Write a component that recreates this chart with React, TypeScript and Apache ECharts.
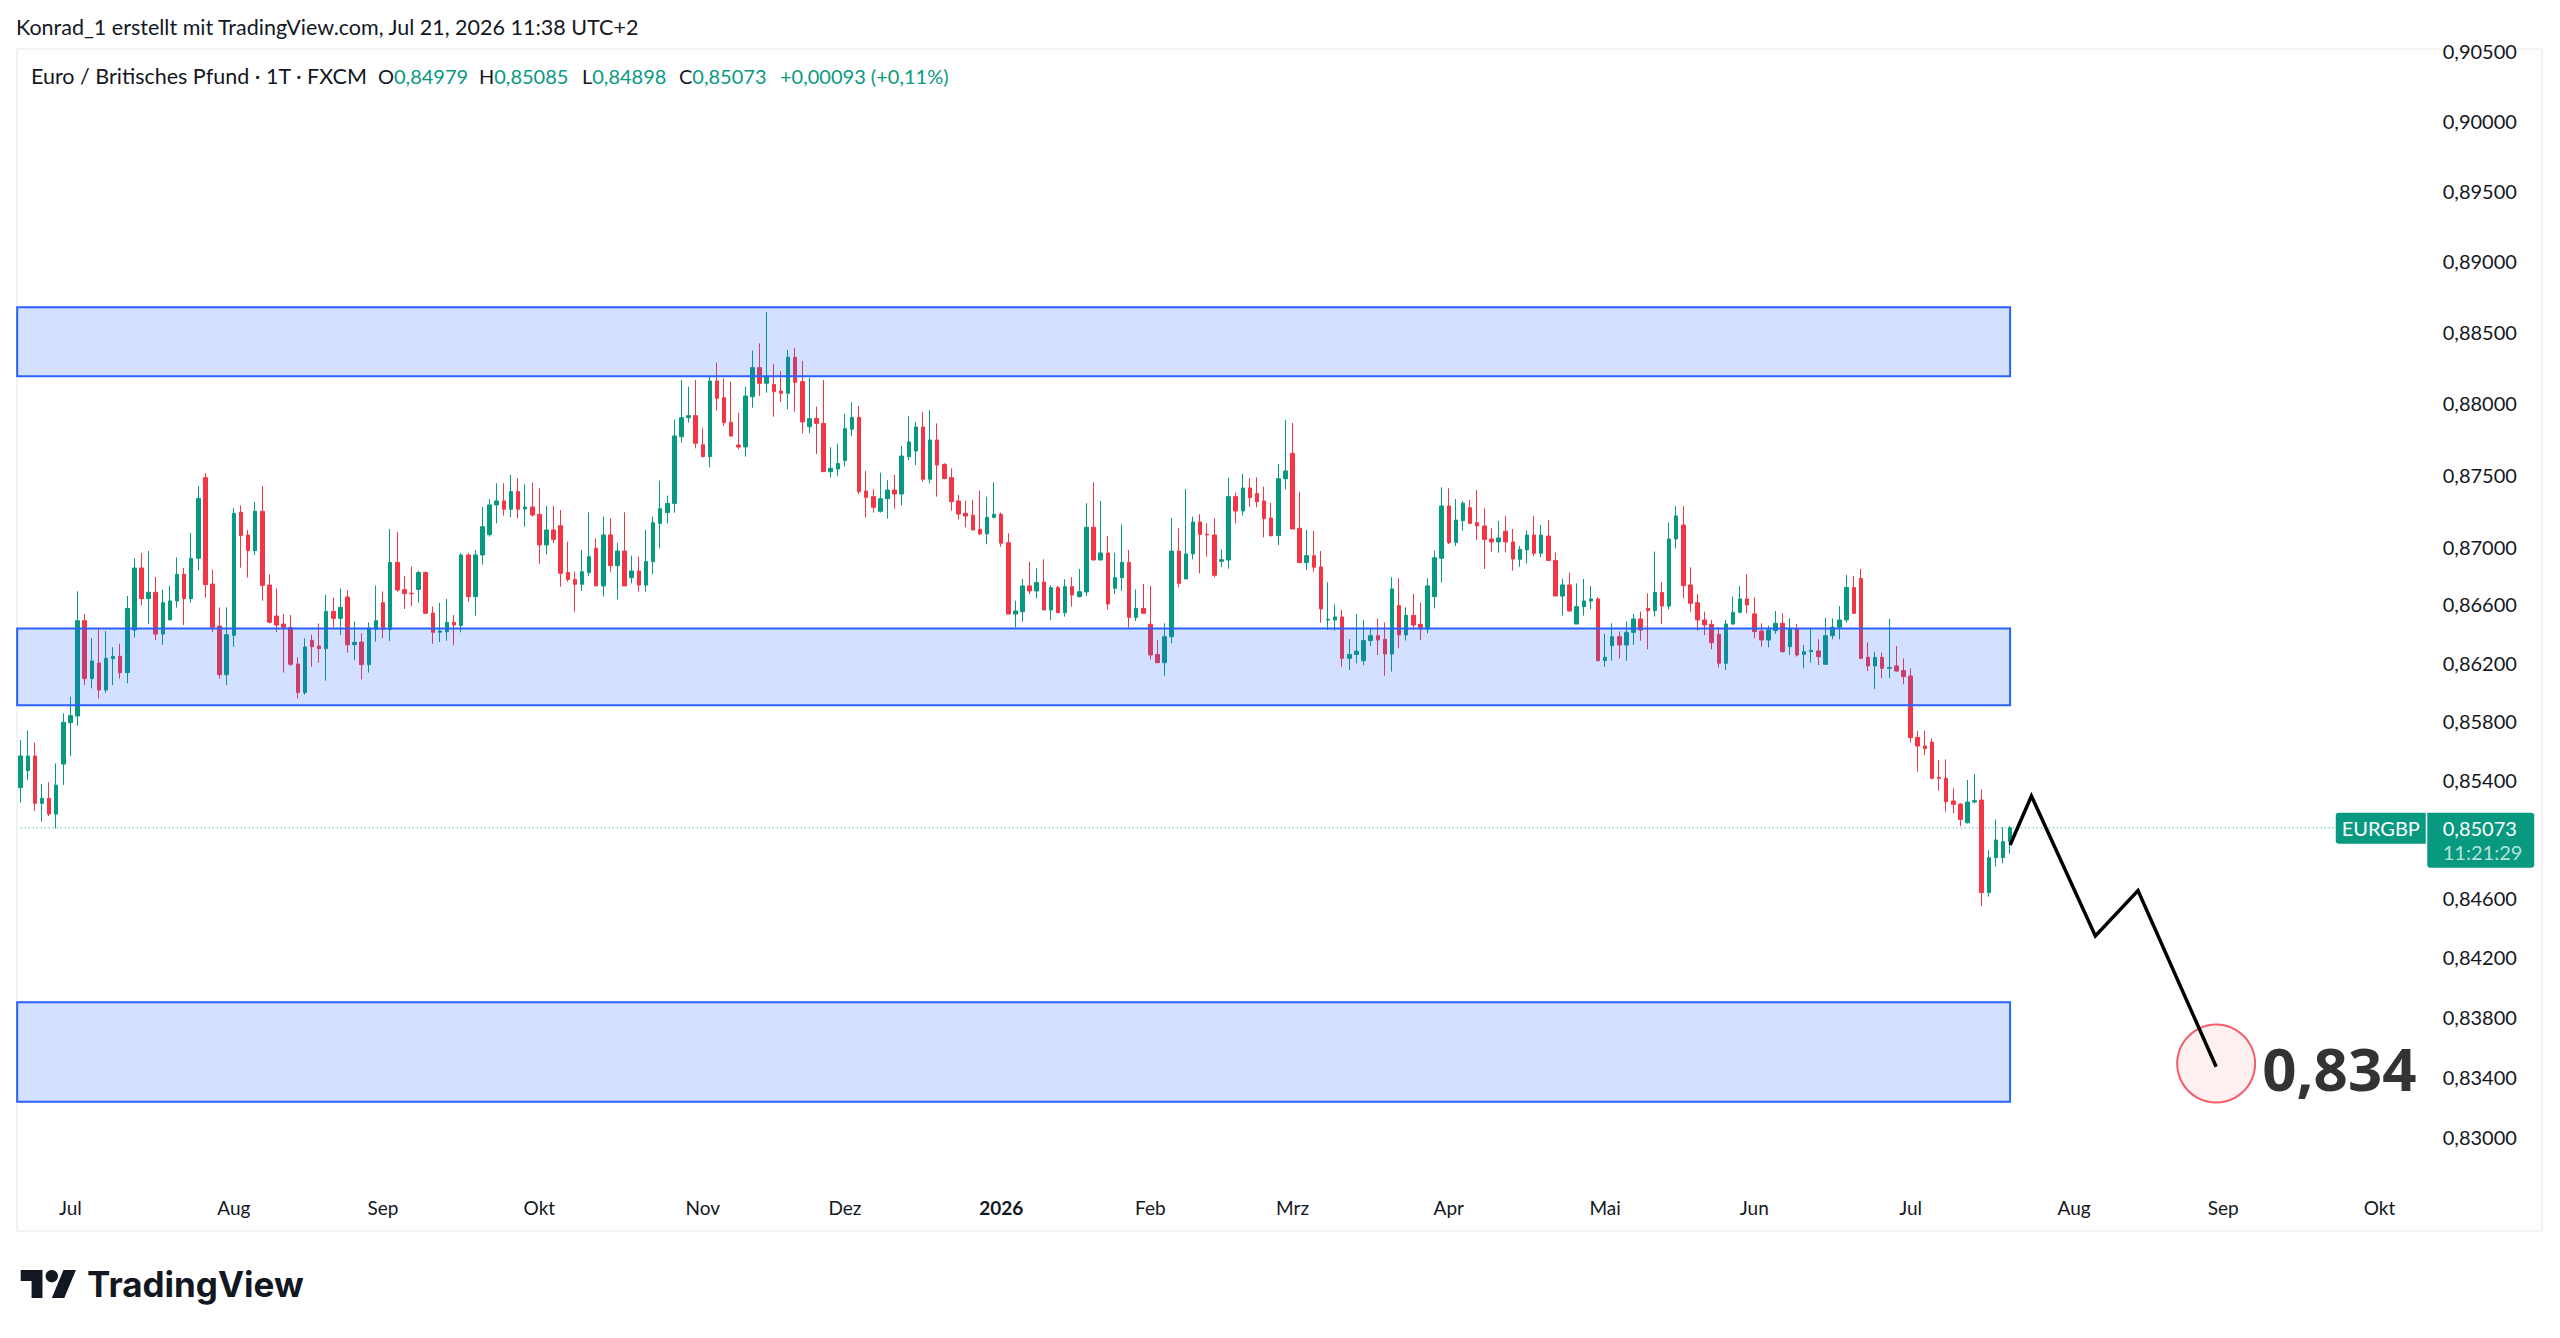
import React, { useEffect, useRef } from "react";
import * as echarts from "echarts";

const FONT = 'Lato, "Noto Sans", sans-serif';
const UP = "#089981";
const DOWN = "#F23645";
const TEXT = "#131722";

const START_DATE = "2025-06-20";
const END_DATE = "2026-10-09";
const HOLIDAYS = ["2025-12-25", "2026-01-01"];
const LAST_DATE = "2026-07-21";
const MONTHS_DE = ["Jan", "Feb", "Mrz", "Apr", "Mai", "Jun", "Jul", "Aug", "Sep", "Okt", "Nov", "Dez"];

// daily candles, each [open, close, low, high]
const OHLC: number[][] = [
  [0.85345, 0.85561, 0.85243, 0.8567], [0.85461, 0.85561, 0.85397, 0.85734], [0.85561, 0.85239, 0.85187, 0.85652],
  [0.85239, 0.85273, 0.85114, 0.8537], [0.85273, 0.85166, 0.85153, 0.85382], [0.85166, 0.85363, 0.85069, 0.85511],
  [0.85506, 0.85791, 0.85363, 0.85852], [0.85788, 0.85836, 0.85561, 0.85966], [0.85834, 0.86488, 0.85766, 0.8669],
  [0.86488, 0.8609, 0.86046, 0.86534], [0.8609, 0.86211, 0.86023, 0.86367], [0.86197, 0.86012, 0.85955, 0.86428],
  [0.86012, 0.86229, 0.85994, 0.86417], [0.86227, 0.86241, 0.86046, 0.86305], [0.86243, 0.86131, 0.8609, 0.86328],
  [0.86131, 0.86573, 0.86058, 0.86658], [0.86424, 0.86852, 0.86373, 0.86919], [0.86852, 0.8664, 0.86594, 0.86956],
  [0.8664, 0.86684, 0.86465, 0.8697], [0.86684, 0.86396, 0.86355, 0.8679], [0.86396, 0.86612, 0.86323, 0.86702],
  [0.86493, 0.86624, 0.86493, 0.8673], [0.86624, 0.86808, 0.86578, 0.86926], [0.86808, 0.8664, 0.86458, 0.86852],
  [0.8664, 0.86919, 0.86612, 0.87094], [0.86919, 0.87335, 0.86836, 0.87421], [0.87479, 0.86737, 0.86647, 0.87512],
  [0.86741, 0.86442, 0.8641, 0.8684], [0.86451, 0.86117, 0.8609, 0.8658], [0.86117, 0.86392, 0.86044, 0.8658],
  [0.86387, 0.87231, 0.86309, 0.87268], [0.87238, 0.87076, 0.86854, 0.87286], [0.8708, 0.86972, 0.86785, 0.87115],
  [0.86972, 0.87245, 0.86942, 0.8731], [0.87245, 0.86732, 0.86626, 0.87421], [0.86734, 0.86477, 0.86469, 0.86808],
  [0.8652, 0.86458, 0.8641, 0.86711], [0.86465, 0.86442, 0.86131, 0.86534], [0.86442, 0.86188, 0.86176, 0.86527],
  [0.8619, 0.85994, 0.85955, 0.86236], [0.85994, 0.86307, 0.8598, 0.86367], [0.86353, 0.86309, 0.86172, 0.86392],
  [0.86314, 0.86296, 0.86199, 0.86469], [0.86296, 0.86552, 0.86076, 0.86665], [0.86552, 0.86504, 0.86442, 0.86647],
  [0.86504, 0.8658, 0.86389, 0.86711], [0.86651, 0.86323, 0.86268, 0.86697], [0.86323, 0.86339, 0.86218, 0.86483],
  [0.86341, 0.86186, 0.86085, 0.86401], [0.86186, 0.86437, 0.86131, 0.86477], [0.86428, 0.86488, 0.86344, 0.8673],
  [0.86612, 0.86428, 0.86367, 0.8669], [0.86428, 0.86891, 0.86348, 0.87122], [0.86891, 0.867, 0.86688, 0.87101],
  [0.86702, 0.86674, 0.86569, 0.86796], [0.86677, 0.86674, 0.86589, 0.86861], [0.86704, 0.8682, 0.86612, 0.86833],
  [0.8682, 0.86539, 0.86534, 0.86829], [0.86541, 0.86408, 0.8633, 0.86585], [0.86408, 0.86417, 0.86341, 0.86612],
  [0.86412, 0.86477, 0.8635, 0.86638], [0.86477, 0.86458, 0.86318, 0.86527], [0.86454, 0.86942, 0.86408, 0.86956],
  [0.86942, 0.86654, 0.86619, 0.86954], [0.86654, 0.86942, 0.86523, 0.86976], [0.86942, 0.87138, 0.86875, 0.87275],
  [0.87083, 0.87289, 0.87069, 0.8733], [0.87289, 0.87317, 0.87161, 0.8744], [0.87317, 0.87259, 0.87215, 0.8744],
  [0.87259, 0.87382, 0.87203, 0.87498], [0.87382, 0.87259, 0.87196, 0.87475], [0.87261, 0.87275, 0.87138, 0.87433],
  [0.87275, 0.87219, 0.87208, 0.87444], [0.87224, 0.87011, 0.8688, 0.87405], [0.87011, 0.87115, 0.86946, 0.87282],
  [0.87115, 0.8705, 0.87023, 0.87282], [0.87145, 0.86815, 0.86723, 0.87254], [0.8682, 0.86773, 0.86757, 0.87034],
  [0.86773, 0.86739, 0.8655, 0.86826], [0.86739, 0.86826, 0.86693, 0.86976], [0.8682, 0.8693, 0.86797, 0.87238],
  [0.86988, 0.86728, 0.86728, 0.87057], [0.86728, 0.87081, 0.86654, 0.87208], [0.87081, 0.86868, 0.86826, 0.87196],
  [0.86868, 0.86969, 0.86635, 0.87027], [0.86969, 0.86728, 0.86728, 0.87238], [0.86785, 0.86831, 0.86746, 0.86937],
  [0.86831, 0.86734, 0.86688, 0.8693], [0.86734, 0.86896, 0.86688, 0.87115], [0.86896, 0.87166, 0.86808, 0.87208],
  [0.87161, 0.87263, 0.86988, 0.87458], [0.87236, 0.873, 0.87161, 0.87354], [0.873, 0.8777, 0.87236, 0.87886],
  [0.87765, 0.87898, 0.87723, 0.88162], [0.87898, 0.87912, 0.87863, 0.88115], [0.87912, 0.87719, 0.87684, 0.88162],
  [0.87709, 0.87626, 0.87621, 0.87824], [0.87626, 0.88155, 0.87551, 0.88186], [0.88155, 0.88034, 0.87947, 0.88284],
  [0.88038, 0.87863, 0.8784, 0.88174], [0.87866, 0.8777, 0.87765, 0.88151], [0.87707, 0.87693, 0.87677, 0.87933],
  [0.87693, 0.8805, 0.87626, 0.88115], [0.88045, 0.88249, 0.87968, 0.88369], [0.88249, 0.88139, 0.8805, 0.8842],
  [0.88139, 0.88186, 0.88073, 0.88641], [0.8813, 0.8808, 0.87905, 0.88275], [0.88085, 0.88069, 0.88008, 0.88225],
  [0.88069, 0.88322, 0.87957, 0.88374], [0.88322, 0.88146, 0.8794, 0.88388], [0.88151, 0.87868, 0.87789, 0.88296],
  [0.87835, 0.87891, 0.87789, 0.88179], [0.87893, 0.87858, 0.87644, 0.87975], [0.87858, 0.87521, 0.87521, 0.88162],
  [0.87521, 0.87544, 0.87479, 0.87691], [0.87539, 0.87577, 0.87489, 0.87716], [0.87598, 0.87821, 0.87556, 0.87926],
  [0.87817, 0.879, 0.8777, 0.88006], [0.879, 0.87382, 0.87365, 0.8798], [0.87386, 0.87342, 0.87201, 0.87526],
  [0.87347, 0.87273, 0.87236, 0.87398], [0.87245, 0.87333, 0.87236, 0.87514], [0.87333, 0.87393, 0.87194, 0.87461],
  [0.87393, 0.87365, 0.87263, 0.87498], [0.87365, 0.8763, 0.87286, 0.877], [0.87626, 0.87728, 0.87602, 0.87908],
  [0.87665, 0.87833, 0.87567, 0.87868], [0.87833, 0.87468, 0.87451, 0.87938], [0.87468, 0.87742, 0.8744, 0.87952],
  [0.87742, 0.87567, 0.87347, 0.87858], [0.87572, 0.87474, 0.87468, 0.87579], [0.87479, 0.87312, 0.87249, 0.87544],
  [0.87317, 0.87226, 0.87189, 0.87358], [0.87231, 0.87212, 0.87134, 0.87319], [0.87217, 0.87115, 0.87115, 0.87324],
  [0.8712, 0.87088, 0.87081, 0.87388], [0.87088, 0.87203, 0.87016, 0.87347], [0.87203, 0.87224, 0.87196, 0.87447],
  [0.87224, 0.87023, 0.87, 0.87236], [0.87027, 0.86534, 0.86534, 0.87092], [0.86534, 0.86555, 0.86442, 0.86626],
  [0.8655, 0.86728, 0.86481, 0.86776], [0.86728, 0.86693, 0.8667, 0.86896], [0.86693, 0.86751, 0.86642, 0.8685],
  [0.86755, 0.86562, 0.86562, 0.86912], [0.86562, 0.86716, 0.86493, 0.86734], [0.86716, 0.86543, 0.86543, 0.86728],
  [0.86543, 0.86723, 0.86516, 0.86774], [0.86723, 0.86665, 0.86585, 0.86788], [0.86654, 0.86688, 0.86649, 0.86845],
  [0.86686, 0.87134, 0.86658, 0.87301], [0.87134, 0.86907, 0.86907, 0.87447], [0.86907, 0.86956, 0.86907, 0.87317],
  [0.86956, 0.86603, 0.86566, 0.87074], [0.86712, 0.86785, 0.86672, 0.86958], [0.86785, 0.86891, 0.86693, 0.87154],
  [0.86891, 0.86511, 0.86442, 0.86977], [0.86511, 0.86573, 0.86486, 0.86704], [0.86573, 0.86539, 0.86539, 0.86742],
  [0.86463, 0.86252, 0.86222, 0.86728], [0.86256, 0.86199, 0.86199, 0.86355], [0.86199, 0.86378, 0.8611, 0.8647],
  [0.86378, 0.86969, 0.86332, 0.87198], [0.86969, 0.86746, 0.86719, 0.87127], [0.86776, 0.86949, 0.86776, 0.874],
  [0.86949, 0.87171, 0.86912, 0.87208], [0.87171, 0.87085, 0.86815, 0.87224], [0.87085, 0.87081, 0.8693, 0.87161],
  [0.87081, 0.86801, 0.86788, 0.87196], [0.86898, 0.86909, 0.86857, 0.86981], [0.86907, 0.87347, 0.86847, 0.87479],
  [0.87347, 0.87247, 0.87161, 0.87375], [0.87247, 0.87407, 0.87215, 0.87505], [0.87407, 0.8734, 0.87277, 0.87475],
  [0.87368, 0.87312, 0.87273, 0.87482], [0.87317, 0.87194, 0.87064, 0.87416], [0.87198, 0.87076, 0.87069, 0.87305],
  [0.87076, 0.87472, 0.87011, 0.87574], [0.87472, 0.87526, 0.87398, 0.87882], [0.87649, 0.87122, 0.87122, 0.87861],
  [0.87127, 0.86889, 0.86889, 0.87381], [0.86889, 0.86937, 0.86838, 0.87115], [0.86937, 0.86857, 0.86826, 0.87108],
  [0.86859, 0.86569, 0.86475, 0.8697], [0.86493, 0.86498, 0.86424, 0.86753], [0.86493, 0.86514, 0.86419, 0.86601],
  [0.86514, 0.86229, 0.86172, 0.86562], [0.86229, 0.86256, 0.86149, 0.86362], [0.86256, 0.86279, 0.86195, 0.86534],
  [0.86213, 0.86351, 0.86183, 0.86493], [0.86351, 0.86385, 0.86314, 0.86435], [0.86385, 0.86355, 0.86252, 0.86502],
  [0.8636, 0.86259, 0.8611, 0.86477], [0.86259, 0.86707, 0.86138, 0.86788], [0.86592, 0.8639, 0.86298, 0.86781],
  [0.8639, 0.86525, 0.86351, 0.8658], [0.86525, 0.86458, 0.86424, 0.86672], [0.86463, 0.86431, 0.86355, 0.86612],
  [0.86431, 0.86728, 0.86401, 0.86781], [0.86654, 0.86923, 0.86573, 0.86972], [0.86919, 0.87282, 0.86751, 0.87412],
  [0.87282, 0.87027, 0.87018, 0.87405], [0.8703, 0.87184, 0.87004, 0.87331], [0.8718, 0.87301, 0.8711, 0.87317],
  [0.8727, 0.87161, 0.87157, 0.87324], [0.87166, 0.87143, 0.87046, 0.87393], [0.87143, 0.8705, 0.86845, 0.87266],
  [0.87053, 0.87032, 0.86965, 0.87127], [0.87032, 0.8706, 0.86958, 0.87178], [0.87106, 0.87032, 0.8696, 0.87212],
  [0.87032, 0.86914, 0.86834, 0.87122], [0.86912, 0.86981, 0.86861, 0.87004], [0.86977, 0.8708, 0.86884, 0.87111],
  [0.8708, 0.86954, 0.86935, 0.87213], [0.86954, 0.8708, 0.86926, 0.8715], [0.87073, 0.86903, 0.86903, 0.87185],
  [0.86903, 0.86658, 0.86658, 0.86958], [0.86658, 0.86735, 0.86523, 0.86776], [0.86735, 0.86555, 0.8655, 0.8682],
  [0.86465, 0.86585, 0.86465, 0.86746], [0.86585, 0.86624, 0.86523, 0.86776], [0.86624, 0.86638, 0.86566, 0.86728],
  [0.86638, 0.86213, 0.86213, 0.86649], [0.86213, 0.86236, 0.86172, 0.86397], [0.86316, 0.86378, 0.86213, 0.8647],
  [0.86378, 0.86321, 0.86229, 0.86413], [0.86321, 0.86408, 0.86213, 0.86482], [0.86408, 0.865, 0.86321, 0.86535],
  [0.865, 0.86424, 0.86351, 0.86551], [0.86573, 0.86557, 0.86291, 0.86677], [0.86557, 0.86683, 0.86516, 0.86965],
  [0.86683, 0.86589, 0.86465, 0.86753], [0.86589, 0.87053, 0.86566, 0.87166], [0.87053, 0.87213, 0.86986, 0.87282],
  [0.8715, 0.8673, 0.86642, 0.87282], [0.86735, 0.86608, 0.8655, 0.86857], [0.86612, 0.86493, 0.86419, 0.86672],
  [0.86493, 0.86459, 0.86389, 0.8655], [0.86463, 0.86337, 0.86291, 0.86493], [0.86394, 0.86195, 0.86167, 0.86443],
  [0.86195, 0.86465, 0.86149, 0.86493], [0.86465, 0.86546, 0.86459, 0.86654], [0.86546, 0.86638, 0.86539, 0.86728],
  [0.86638, 0.86596, 0.86539, 0.86808], [0.86535, 0.86413, 0.86367, 0.86649], [0.86417, 0.86355, 0.86309, 0.8647],
  [0.86355, 0.86424, 0.86305, 0.86454], [0.8642, 0.8647, 0.86397, 0.86555], [0.8647, 0.86275, 0.86268, 0.86539],
  [0.86309, 0.86431, 0.86252, 0.86504], [0.86431, 0.86252, 0.86241, 0.86465], [0.86257, 0.86275, 0.86161, 0.86321],
  [0.86275, 0.86284, 0.86199, 0.86429], [0.8628, 0.86241, 0.86183, 0.8636], [0.86188, 0.86385, 0.86188, 0.86509],
  [0.86385, 0.86443, 0.8636, 0.86504], [0.86443, 0.86493, 0.8636, 0.86589], [0.86493, 0.86717, 0.86475, 0.86803],
  [0.86717, 0.86539, 0.86535, 0.86797], [0.8678, 0.86229, 0.86222, 0.86845], [0.86236, 0.86177, 0.86142, 0.86339],
  [0.86177, 0.86236, 0.86019, 0.86275], [0.86236, 0.86161, 0.86092, 0.86268], [0.86161, 0.86167, 0.86092, 0.865],
  [0.86177, 0.86142, 0.86137, 0.86314], [0.86145, 0.86103, 0.86051, 0.86229], [0.86108, 0.85686, 0.85652, 0.86161],
  [0.85688, 0.85629, 0.85454, 0.85731], [0.85629, 0.85611, 0.85567, 0.85733], [0.85656, 0.85409, 0.85402, 0.85681],
  [0.85416, 0.85409, 0.85325, 0.85534], [0.85409, 0.8525, 0.85182, 0.85538], [0.85255, 0.85232, 0.85171, 0.85341],
  [0.85234, 0.8513, 0.85085, 0.85239], [0.85107, 0.85248, 0.85103, 0.85398], [0.85248, 0.85257, 0.85239, 0.85438],
  [0.85261, 0.84635, 0.84545, 0.85334], [0.84635, 0.84871, 0.84608, 0.84923], [0.84871, 0.8499, 0.8481, 0.8513],
  [0.84871, 0.8498, 0.84833, 0.85076], [0.84979, 0.85073, 0.84898, 0.85085],
];

const PRICE_TICKS = [0.905, 0.9, 0.895, 0.89, 0.885, 0.88, 0.875, 0.87, 0.866, 0.862, 0.858, 0.854, 0.846, 0.842, 0.838, 0.834, 0.83];
const Y_MIN = 0.826799;
const Y_MAX = 0.905104;

// [from, to, low, high]
const ZONES: [string, string, number, number][] = [
  ["2025-06-20", "2026-07-21", 0.88188, 0.88674],
  ["2025-06-20", "2026-07-21", 0.85907, 0.86435],
  ["2025-06-20", "2026-07-21", 0.83237, 0.83899],
];

const PROJECTION: [string, number][] = [
  ["2026-07-21", 0.84956],
  ["2026-07-24", 0.85289],
  ["2026-08-06", 0.84343],
  ["2026-08-14", 0.84648],
  ["2026-08-31", 0.83469],
];
const TARGET: [string, number] = ["2026-08-31", 0.8349];
const TARGET_LABEL = "0,834";

const SYMBOL = "EURGBP";
const COUNTDOWN = "11:21:29";
const HEADER = "Konrad_1 erstellt mit TradingView.com, Jul 21, 2026 11:38 UTC+2";
const INSTRUMENT = "Euro / Britisches Pfund · 1T · FXCM";

const TV_LOGO = "M14 22H7V11H0V4h14v18zM28 22h-8l7.5-18h8L28 22z";
echarts.graphic.registerShape("tvlogo", echarts.graphic.extendPath(TV_LOGO, {}) as any);

function buildDates(): string[] {
  const out: string[] = [];
  const d = new Date(START_DATE + "T00:00:00Z");
  const end = new Date(END_DATE + "T00:00:00Z").getTime();
  while (d.getTime() <= end) {
    const wd = d.getUTCDay();
    const s = d.toISOString().slice(0, 10);
    if (wd !== 0 && wd !== 6 && HOLIDAYS.indexOf(s) < 0) out.push(s);
    d.setUTCDate(d.getUTCDate() + 1);
  }
  return out;
}

const fmt = (v: number) => v.toFixed(5).replace(".", ",");

export default function App() {
  const ref = useRef<HTMLDivElement>(null);
  useEffect(() => {
    document.body.style.margin = "0";
    if (!ref.current) return;
    const chart = echarts.init(ref.current, undefined, { renderer: "svg", width: 2560, height: 1338 });
    const dates = buildDates();
    const lastIdx = dates.indexOf(LAST_DATE);
    const offset = lastIdx - (OHLC.length - 1);
    const candleData: any[] = dates.map((_, i) => {
      const k = i - offset;
      if (k < 0 || k >= OHLC.length) return "-";
      return OHLC[k].map((v) => Math.log(v));
    });
    const monthStarts = new Set<number>();
    for (let i = 1; i < dates.length; i++) {
      if (dates[i].slice(5, 7) !== dates[i - 1].slice(5, 7)) monthStarts.add(i);
    }
    const last = OHLC[OHLC.length - 1];
    const prev = OHLC[OHLC.length - 2];
    const lastClose = last[1];
    const change = lastClose - prev[1];
    const pct = (change / prev[1]) * 100;

    const zoneData = ZONES.map((z) => [dates.indexOf(z[0]), dates.indexOf(z[1]), Math.log(z[2]), Math.log(z[3])]);

    const option: any = {
      animation: false,
      backgroundColor: "#ffffff",
      grid: { left: 17.15, top: 50, width: 2408.6, height: 1136, containLabel: false },
      xAxis: {
        type: "category",
        data: dates,
        boundaryGap: true,
        axisLine: { show: false },
        axisTick: { show: false },
        splitLine: { show: false },
        axisLabel: {
          interval: (i: number) => monthStarts.has(i),
          margin: 12,
          fontSize: 19,
          fontFamily: FONT,
          color: TEXT,
          formatter: (v: string) => {
            const m = parseInt(v.slice(5, 7), 10) - 1;
            if (m === 0) return "{y|" + v.slice(0, 4) + "}";
            return MONTHS_DE[m];
          },
          rich: { y: { fontSize: 19, fontWeight: "bold", fontFamily: FONT, color: TEXT } },
        },
      },
      yAxis: {
        type: "value",
        position: "right",
        min: Math.log(Y_MIN),
        max: Math.log(Y_MAX),
        scale: true,
        axisLine: { show: false },
        axisTick: { show: false },
        splitLine: { show: false },
        axisLabel: {
          customValues: PRICE_TICKS.map((t) => Math.log(t)),
          formatter: (v: number) => fmt(Math.exp(v)),
          align: "left",
          margin: 17,
          fontSize: 20,
          fontFamily: FONT,
          color: TEXT,
        },
      },
      series: [
        {
          type: "line",
          z: 1,
          silent: true,
          data: [
            [dates[0], Math.log(lastClose)],
            [dates[dates.length - 1], Math.log(lastClose)],
          ],
          symbol: "none",
          lineStyle: { color: UP, type: [1, 3], width: 1 },
        },
        {
          type: "candlestick",
          data: candleData,
          barWidth: 4,
          z: 2,
          itemStyle: { color: UP, color0: DOWN, borderColor: UP, borderColor0: DOWN, borderWidth: 1 },
        },
        {
          type: "custom",
          z: 3,
          data: zoneData,
          encode: { x: [0, 1], y: [2, 3] },
          renderItem: (params: any, api: any) => {
            const p0 = api.coord([api.value(0), api.value(3)]);
            const p1 = api.coord([api.value(1), api.value(2)]);
            const bw = api.size([1, 0])[0];
            return {
              type: "rect",
              shape: { x: p0[0] - bw / 2, y: p0[1], width: p1[0] - p0[0] + bw / 2, height: p1[1] - p0[1] },
              style: { fill: "rgba(41,98,255,0.2)", stroke: "#2962FF", lineWidth: 2 },
            };
          },
        },
        {
          type: "scatter",
          z: 4,
          data: [[TARGET[0], Math.log(TARGET[1])]],
          symbol: "circle",
          symbolSize: 78,
          itemStyle: { color: "rgba(242,54,69,0.1)", borderColor: DOWN, borderWidth: 2 },
          label: {
            show: true,
            position: "right",
            distance: 6,
            offset: [0, 4],
            formatter: TARGET_LABEL,
            fontSize: 60,
            fontWeight: "bold",
            fontFamily: '"Noto Sans", sans-serif',
            color: "#000000",
          },
        },
        {
          type: "line",
          z: 5,
          data: PROJECTION.map((p) => [p[0], Math.log(p[1])]),
          symbol: "none",
          lineStyle: { color: "#000000", width: 3.5, join: "miter" },
        },
      ],
    };
    chart.setOption(option);

    const yPix = chart.convertToPixel({ yAxisIndex: 0 }, Math.log(lastClose)) as number;
    const gridRight = 17.15 + 2408.6;
    const FS = 21.5;
    const FSV = 20;

    const legendItem = (x: number, k: string, v: string) => ({
      type: "text",
      x,
      y: 75.5,
      style: {
        text: "{k|" + k + "}{v|" + v + "}",
        verticalAlign: "middle",
        align: "left",
        rich: {
          k: { fill: TEXT, color: TEXT, fontSize: FSV, fontFamily: FONT },
          v: { fill: UP, color: UP, fontSize: FSV, fontFamily: FONT },
        },
      },
    });

    const graphics: any[] = [
      {
        type: "rect",
        silent: true,
        z: -1,
        shape: { x: 17, y: 49, width: 2525, height: 1182 },
        style: { fill: "none", stroke: "#EDEFF3", lineWidth: 1.5 },
      },
      {
        type: "text",
        x: 16,
        y: 27,
        style: { text: HEADER, fill: TEXT, fontSize: FS, fontFamily: FONT, verticalAlign: "middle", align: "left" },
      },
      {
        type: "text",
        x: 31,
        y: 75.5,
        style: { text: INSTRUMENT, fill: TEXT, fontSize: FS, fontFamily: FONT, verticalAlign: "middle", align: "left" },
      },
      legendItem(378, "O", fmt(last[0])),
      legendItem(479, "H", fmt(last[3])),
      legendItem(582, "L", fmt(last[2])),
      legendItem(679, "C", fmt(last[1])),
      {
        type: "text",
        x: 780,
        y: 75.5,
        style: {
          text: (change >= 0 ? "+" : "") + fmt(change) + " (" + (pct >= 0 ? "+" : "") + pct.toFixed(2).replace(".", ",") + "%)",
          fill: UP,
          fontSize: FSV,
          fontFamily: FONT,
          verticalAlign: "middle",
          align: "left",
        },
      },
      {
        type: "tvlogo",
        x: 20.7,
        y: 1263.8,
        scaleX: 1.556,
        scaleY: 1.556,
        style: { fill: TEXT },
      },
      { type: "circle", shape: { cx: 51.8, cy: 1276.2, r: 6.2 }, style: { fill: TEXT } },
      {
        type: "text",
        x: 87,
        y: 1284,
        style: {
          text: "TradingView",
          fill: TEXT,
          fontSize: 35,
          fontWeight: 700,
          fontFamily: "Inter, sans-serif",
          verticalAlign: "middle",
          align: "left",
        },
      },
    ];
    if (typeof yPix === "number" && isFinite(yPix)) {
      graphics.push(
        {
          type: "rect",
          z: 100,
          shape: { x: gridRight - 90, y: yPix - 15, width: 90, height: 31, r: [3, 0, 0, 3] },
          style: { fill: UP },
        },
        {
          type: "text",
          z: 101,
          x: gridRight - 45,
          y: yPix + 0.5,
          style: { text: SYMBOL, fill: "#ffffff", fontSize: 20, fontFamily: FONT, align: "center", verticalAlign: "middle" },
        },
        {
          type: "rect",
          z: 100,
          shape: { x: gridRight + 1.5, y: yPix - 15, width: 107, height: 55, r: [0, 3, 3, 3] },
          style: { fill: UP },
        },
        {
          type: "text",
          z: 101,
          x: gridRight + 17,
          y: yPix,
          style: { text: fmt(lastClose), fill: "#ffffff", fontSize: 20, fontFamily: FONT, align: "left", verticalAlign: "middle" },
        },
        {
          type: "text",
          z: 101,
          x: gridRight + 17,
          y: yPix + 24,
          style: { text: COUNTDOWN, fill: "rgba(255,255,255,0.72)", fontSize: 20, fontFamily: FONT, align: "left", verticalAlign: "middle" },
        }
      );
    }
    chart.setOption({ graphic: graphics });

    return () => chart.dispose();
  }, []);
  return <div ref={ref} style={{ width: 2560, height: 1338 }} />;
}
